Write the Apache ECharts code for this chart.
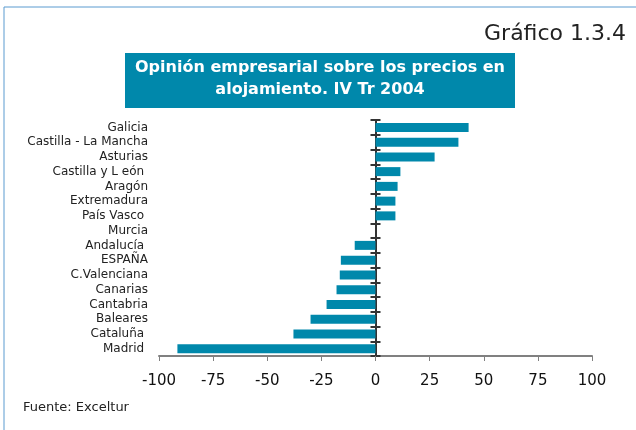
<!DOCTYPE html>
<html>
<head>
<meta charset="utf-8">
<script src="https://cdn.jsdelivr.net/npm/echarts@6/dist/echarts.min.js"></script>
<style>
html,body{margin:0;padding:0;background:#fff;}
#chart{width:636px;height:430px;}
</style>
</head>
<body>
<div id="chart"></div>
<script>
// regiones (de arriba a abajo)
var regiones = ['Galicia', 'Castilla - La Mancha', 'Asturias', 'Castilla y L eón ', 'Aragón', 'Extremadura',
	'País Vasco ', 'Murcia', 'Andalucía ', 'ESPAÑA', 'C.Valenciana', 'Canarias', 'Cantabria',
	'Baleares', 'Cataluña ', 'Madrid '];
var valores = [43, 38.3, 27.3, 11.5, 10.2, 9.2, 9.2, 0, -9.6, -16, -16.5, -18, -22.6, -30, -37.9, -91.5];
var ticksX = [-100, -75, -50, -25, 0, 25, 50, 75, 100];

var azul = '#0088ab';
var fuente = 'DejaVu Sans, Verdana, sans-serif';
var myChart = echarts.init(document.getElementById('chart'));
var option = {
	animation : false,
	textStyle : { fontFamily : fuente },
	graphic : [
		// marco
		{ type : 'line', shape : { x1 : 4, y1 : 7, x2 : 636, y2 : 7 }, style : { stroke : '#5b9bd0', lineWidth : 1 } },
		{ type : 'line', shape : { x1 : 4, y1 : 7, x2 : 4, y2 : 430 }, style : { stroke : '#5b9bd0', lineWidth : 1 } },
		{ type : 'text', right : 10, top : 23, style : { text : 'Gráfico 1.3.4', fontSize : 22, fill : '#222',
			fontFamily : fuente } },
		{ type : 'rect', shape : { x : 125, y : 53, width : 390, height : 55 }, style : { fill : azul } },
		{ type : 'text', x : 320, y : 79, style : { text : 'Opinión empresarial sobre los precios en\nalojamiento. IV Tr 2004',
			fill : '#fff', fontSize : 16, fontWeight : 'bold', align : 'center', verticalAlign : 'middle',
			lineHeight : 22, fontFamily : fuente } },
		{ type : 'text', x : 23, y : 401, style : { text : 'Fuente: Exceltur', fontSize : 13, fill : '#222', fontFamily : fuente } }
	],
	grid : { left : 159, right : 44, top : 120, bottom : 74 },
	xAxis : {
		type : 'value',
		min : -100,
		max : 100,
		interval : 25,
		axisLine : { show : true, onZero : false, lineStyle : { color : '#808080', width : 2 } },
		axisTick : { show : true, length : 5, lineStyle : { color : '#808080' } },
		axisLabel : { margin : 18, fontSize : 15, color : '#111',
			formatter : function(v) { return ticksX.indexOf(v) >= 0 ? String(v) : ''; } },
		splitLine : { show : false }
	},
	yAxis : [ {
		type : 'category',
		position : 'left',
		data : regiones,
		inverse : true,
		axisLine : { show : false, onZero : false },
		axisTick : { show : false },
		axisLabel : { margin : 11, fontSize : 12, color : '#222', interval : 0 }
	}, {
		type : 'category',
		position : 'left',
		data : regiones,
		inverse : true,
		axisLine : { show : true, onZero : true, onZeroAxisIndex : 0, lineStyle : { color : '#333', width : 2 } },
		axisTick : { show : true, length : 5, interval : 0, lineStyle : { color : '#333', width : 2 } },
		axisLabel : { show : false }
	}, {
		type : 'category',
		position : 'right',
		data : regiones,
		inverse : true,
		axisLine : { show : false, onZero : true, onZeroAxisIndex : 0 },
		axisTick : { show : true, length : 5, interval : 0, lineStyle : { color : '#333', width : 2 } },
		axisLabel : { show : false }
	} ],
	series : [ {
		type : 'bar',
		yAxisIndex : 0,
		data : valores,
		barWidth : 9,
		itemStyle : { color : azul }
	} ]
};
myChart.setOption(option);
</script>
</body>
</html>
